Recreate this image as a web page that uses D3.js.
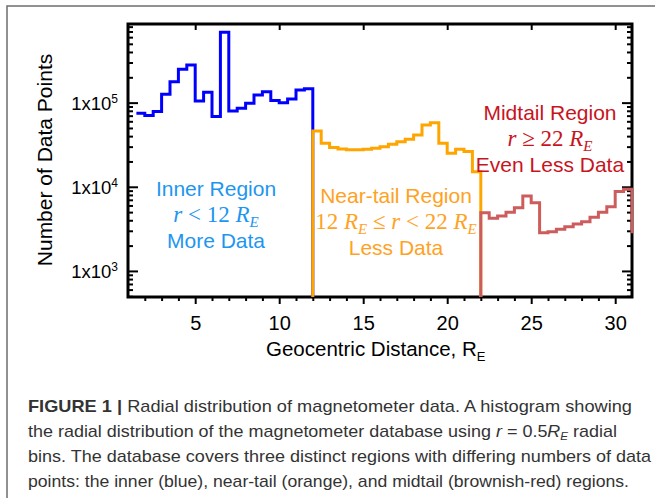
<!DOCTYPE html>
<html>
<head>
<meta charset="utf-8">
<script src="https://cdn.jsdelivr.net/npm/d3@7"></script>
<style>
  body { margin: 0; background: #fff; }
  text { font-family: "Liberation Sans", Arial, sans-serif; }
  .math { font-family: "Liberation Serif", "DejaVu Serif", serif; }
</style>
</head>
<body>
<div id="chart"></div>
<script>
// histogram data, 0.5 R_E bins
var binWidth = 0.5;

var innerStart = 1.5;
var innerCounts = [74800, 70100, 78200, 125800, 177700, 249400, 280600, 104800, 132900, 68200,
    686500, 79300, 85800, 98400, 123500, 135100, 106200, 100000, 110700, 141600, 146300];

var nearStart = 12;
var nearCounts = [46100, 32900, 29200, 28200, 27600, 27600, 27900, 28700, 30000, 32000,
    34400, 36700, 41300, 54300, 57800, 32900, 25000, 27900, 26200, 15100];

var midStart = 22;
var midCounts = [4930, 4230, 4500, 4990, 5650, 7790, 6480, 2850, 2930, 3130,
    3360, 3620, 3850, 4350, 4990, 5810, 8760, 9350, 2930];

var xMajorTicks = [5, 10, 15, 20, 25, 30];
var yMajorTicks = [1e3, 1e4, 1e5];
var yTickExp = ["3", "4", "5"];

// svg sizes and margins
var svgWidth = 655;
var svgHeight = 498;

var margin = {
    top: 24,
    right: 23,
    left: 128,
    bottom: 201
};

var width = svgWidth - margin.left - margin.right;
var height = svgHeight - margin.top - margin.bottom;

var svg = d3.select("#chart").append("svg")
    .attr("width", svgWidth)
    .attr("height", svgHeight);

// outer figure frame
svg.append("path")
    .attr("d", "M7,498 L7,6 L655,6")
    .attr("fill", "none")
    .attr("stroke", "#6e6e6e")
    .attr("stroke-width", 1.5);

var chartGroup = svg.append("g")
    .attr("transform", `translate(${margin.left}, ${margin.top})`);

// scales
var xScale = d3.scaleLinear().domain([1, 31]).range([0, width]);
var yScale = d3.scaleLog().domain([490, 8.6e5]).range([height, 0]);

// minor tick values on the log axis
var yMinorTicks = [];
[100, 1000, 10000, 100000].forEach(function(dec) {
    for (var m = 2; m <= 9; m++) {
        var v = dec * m;
        if (v >= 490 && v <= 8.6e5) yMinorTicks.push(v);
    }
});
var xMinorTicks = d3.range(2, 31).filter(d => xMajorTicks.indexOf(d) < 0);

function styleTicks(g, w) {
    g.select(".domain").remove();
    g.selectAll(".tick line").attr("stroke", "#000").attr("stroke-width", w);
}

// bottom axis (ticks outward)
chartGroup.append("g")
    .attr("transform", `translate(0, ${height})`)
    .call(d3.axisBottom(xScale).tickValues(xMinorTicks).tickSize(4).tickFormat(""))
    .call(g => styleTicks(g, 2));

var bottomAxis = chartGroup.append("g")
    .attr("transform", `translate(0, ${height})`)
    .call(d3.axisBottom(xScale).tickValues(xMajorTicks).tickSize(7).tickPadding(12).tickFormat(d3.format("d")))
    .call(g => styleTicks(g, 2));
bottomAxis.selectAll("text")
    .attr("font-size", 20)
    .attr("fill", "#000")
    .attr("font-family", "Liberation Sans, Arial, sans-serif");

// top axis (major ticks inward)
chartGroup.append("g")
    .call(d3.axisBottom(xScale).tickValues(xMajorTicks).tickSize(6).tickFormat(""))
    .call(g => styleTicks(g, 2));

// left and right axes (ticks inward)
chartGroup.append("g")
    .call(d3.axisRight(yScale).tickValues(yMinorTicks).tickSize(5).tickFormat(""))
    .call(g => styleTicks(g, 2));
chartGroup.append("g")
    .call(d3.axisRight(yScale).tickValues(yMajorTicks).tickSize(10).tickFormat(""))
    .call(g => styleTicks(g, 2));
chartGroup.append("g")
    .attr("transform", `translate(${width}, 0)`)
    .call(d3.axisLeft(yScale).tickValues(yMinorTicks).tickSize(5).tickFormat(""))
    .call(g => styleTicks(g, 2));
chartGroup.append("g")
    .attr("transform", `translate(${width}, 0)`)
    .call(d3.axisLeft(yScale).tickValues(yMajorTicks).tickSize(10).tickFormat(""))
    .call(g => styleTicks(g, 2));

// y tick labels 1x10^n
var yLabels = chartGroup.selectAll(".ylab")
    .data(yMajorTicks)
    .enter().append("text")
    .attr("class", "ylab")
    .attr("x", -10)
    .attr("y", d => yScale(d) + 7)
    .attr("text-anchor", "end")
    .attr("font-size", 18.5)
    .attr("fill", "#000");
yLabels.append("tspan").text("1x10");
yLabels.append("tspan")
    .attr("dy", -7)
    .attr("font-size", 12)
    .text((d, i) => yTickExp[i]);

// plot box
chartGroup.append("rect")
    .attr("width", width)
    .attr("height", height)
    .attr("fill", "none")
    .attr("stroke", "#000")
    .attr("stroke-width", 3);

// histogram lines
svg.append("defs").append("clipPath").attr("id", "plotClip")
    .append("rect")
    .attr("x", -2).attr("y", -2)
    .attr("width", width + 3.5).attr("height", height + 4);

var stepLine = d3.line()
    .x(d => xScale(d[0]))
    .y(d => yScale(d[1]))
    .curve(d3.curveStepAfter);

function histPoints(start, counts, fromBottom, toBottom) {
    var pts = [];
    var floor = yScale.domain()[0];
    if (fromBottom) pts.push([start, floor]);
    counts.forEach(function(c, i) { pts.push([start + i * binWidth, c]); });
    var end = start + counts.length * binWidth;
    pts.push([end, toBottom ? floor : counts[counts.length - 1]]);
    return pts;
}

var dataGroup = chartGroup.append("g").attr("clip-path", "url(#plotClip)");

dataGroup.append("path")
    .attr("d", stepLine(histPoints(innerStart, innerCounts, false, true)))
    .attr("fill", "none").attr("stroke", "#0000ff").attr("stroke-width", 3);
dataGroup.append("path")
    .attr("d", stepLine(histPoints(nearStart, nearCounts, true, true)))
    .attr("fill", "none").attr("stroke", "#ffa500").attr("stroke-width", 3);
dataGroup.append("path")
    .attr("d", stepLine(histPoints(midStart, midCounts, true, false)))
    .attr("fill", "none").attr("stroke", "#cd5c5c").attr("stroke-width", 3);

// region labels
function regionLabel(cx, y0, color, top, mathParts, bottom) {
    var g = svg.append("g").attr("fill", color).attr("text-anchor", "middle");
    g.append("text").attr("x", cx).attr("y", y0).attr("font-size", 21).text(top);
    var m = g.append("text").attr("class", "math").attr("x", cx).attr("y", y0 + 26).attr("font-size", 23);
    mathParts.forEach(function(p) {
        var t = m.append("tspan").text(p.t);
        if (p.i) t.attr("font-style", "italic");
        if (p.sub) t.attr("font-size", 15).attr("dy", 5);
        if (p.up) t.attr("dy", -5);
    });
    g.append("text").attr("x", cx).attr("y", y0 + 52).attr("font-size", 21).text(bottom);
}

regionLabel(216, 196, "#1e96f0", "Inner Region",
    [{t: "r", i: true}, {t: " < 12 "}, {t: "R", i: true}, {t: "E", i: true, sub: true}],
    "More Data");
regionLabel(396, 203, "#ffa21f", "Near-tail Region",
    [{t: "12 "}, {t: "R", i: true}, {t: "E", i: true, sub: true}, {t: " ≤ ", up: true}, {t: "r", i: true},
     {t: " < 22 "}, {t: "R", i: true}, {t: "E", i: true, sub: true}],
    "Less Data");
regionLabel(550, 120, "#c8141e", "Midtail Region",
    [{t: "r", i: true}, {t: " ≥ 22 "}, {t: "R", i: true}, {t: "E", i: true, sub: true}],
    "Even Less Data");

// axis titles
svg.append("text")
    .attr("transform", "translate(52, 160) rotate(-90)")
    .attr("text-anchor", "middle")
    .attr("font-size", 21)
    .text("Number of Data Points");

var xTitle = svg.append("text")
    .attr("x", 266)
    .attr("y", 356)
    .attr("font-size", 20.5);
xTitle.append("tspan").text("Geocentric Distance, R");
xTitle.append("tspan").attr("font-size", 13).attr("dy", 5).text("E");

// caption
var capLines = [
    [{t: "FIGURE 1 | ", b: true}, {t: "Radial distribution of magnetometer data. A histogram showing"}],
    [{t: "the radial distribution of the magnetometer database using "}, {t: "r", i: true}, {t: " = 0.5"},
     {t: "R", i: true}, {t: "E", i: true, sub: true}, {t: " radial", down: true}],
    [{t: "bins. The database covers three distinct regions with differing numbers of data"}],
    [{t: "points: the inner (blue), near-tail (orange), and midtail (brownish-red) regions."}]
];
var capWidths = [604, 589, 623, 601];

capLines.forEach(function(parts, li) {
    var t = svg.append("text")
        .attr("x", 28)
        .attr("y", 412 + li * 25)
        .attr("font-size", 17)
        .attr("fill", "#333")
        .attr("textLength", capWidths[li])
        .attr("lengthAdjust", "spacingAndGlyphs");
    parts.forEach(function(p) {
        var s = t.append("tspan").text(p.t);
        if (p.b) s.attr("font-weight", "bold");
        if (p.i) s.attr("font-style", "italic");
        if (p.sub) s.attr("font-size", 11).attr("dy", 3);
        if (p.down) s.attr("dy", -3);
    });
});
</script>
</body>
</html>
